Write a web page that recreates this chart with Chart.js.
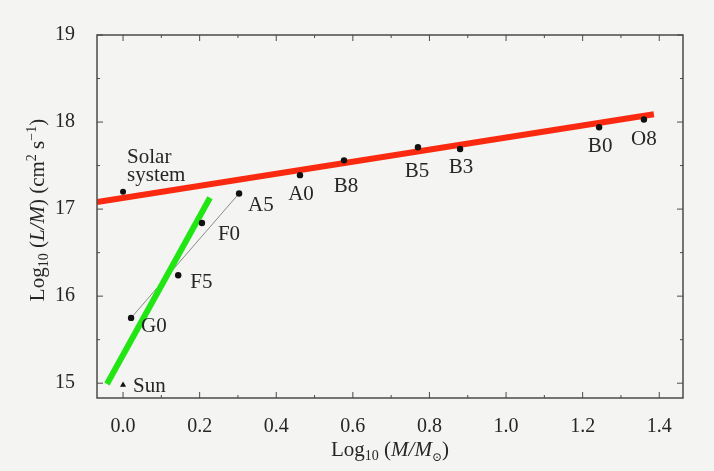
<!DOCTYPE html>
<html>
<head>
<meta charset="utf-8">
<script src="https://cdn.jsdelivr.net/npm/chart.js@4.4.0/dist/chart.umd.min.js"></script>
<style>
  body { margin: 0; background: #f4f4f3; }
  canvas { display: block; }
</style>
</head>
<body>
<canvas id="jChart" width="714" height="471"></canvas>
<script>
// main-sequence stars: log10(M/Msun) and log10(J/M) in cm^2 s^-1
const starTypes = ["A5", "F0", "F5", "G0", "A0", "B8", "B5", "B3", "B0", "O8"];
const starLogMass = [0.303, 0.206, 0.144, 0.021, 0.462, 0.577, 0.770, 0.880, 1.243, 1.360];
const starLogJ = [17.18, 16.84, 16.24, 15.75, 17.39, 17.56, 17.71, 17.69, 17.94, 18.03];

const sunLogMass = [0.0];
const sunLogJ = [14.98];
const solarSysLogMass = [0.0];
const solarSysLogJ = [17.20];

// the two fitted lines, end points
const upperFitX = [-0.068, 1.386];
const upperFitY = [17.08, 18.09];
const lowerFitX = [-0.042, 0.227];
const lowerFitY = [14.99, 17.13];

// thin line joins these two stars
const thinLineStars = ["G0", "A5"];

const xTicks = [0.0, 0.2, 0.4, 0.6, 0.8, 1.0, 1.2, 1.4];
const yTicks = [15, 16, 17, 18, 19];

const SERIF = '"Liberation Serif", "DejaVu Serif", serif';
const INK = "#262626";

// label placement around each point (pixels)
const labelOffsets = {
  A5: [9, 18, "left"], F0: [16, 17, "left"], F5: [12, 13, "left"], G0: [10, 14, "left"],
  A0: [1, 25, "center"], B8: [2, 32, "center"], B5: [-1, 30, "center"], B3: [1, 24, "center"],
  B0: [1, 25, "center"], O8: [0, 26, "center"]
};

const toPoints = (xs, ys) => xs.map((x, i) => ({ x: x, y: ys[i] }));

const thinLine = thinLineStars.map(s => {
  const i = starTypes.indexOf(s);
  return { x: starLogMass[i], y: starLogJ[i] };
});

function drawRich(ctx, segs, cx, cy) {
  let total = 0;
  segs.forEach(s => { ctx.font = s.font; total += ctx.measureText(s.t).width; });
  let x = cx - total / 2;
  ctx.textAlign = "left";
  ctx.textBaseline = "alphabetic";
  segs.forEach(s => {
    ctx.font = s.font;
    ctx.fillText(s.t, x, cy + (s.dy || 0));
    x += ctx.measureText(s.t).width;
  });
}

const decorPlugin = {
  id: "decor",
  afterDatasetsDraw(chart) {
    const ctx = chart.ctx;
    const xs = chart.scales.x, ys = chart.scales.y;
    const a = chart.chartArea;
    ctx.save();

    // frame
    ctx.strokeStyle = "#4a4a4a";
    ctx.lineWidth = 1.5;
    ctx.strokeRect(a.left, a.top, a.right - a.left, a.bottom - a.top);

    // inward ticks on all four sides
    ctx.lineWidth = 1;
    ctx.beginPath();
    for (let v = 0; v <= 1.45; v += 0.1) {
      const px = xs.getPixelForValue(v);
      const len = Math.abs(Math.round(v * 10) % 2) === 0 ? 6 : 3;
      ctx.moveTo(px, a.bottom); ctx.lineTo(px, a.bottom - len);
      ctx.moveTo(px, a.top); ctx.lineTo(px, a.top + len);
    }
    for (let v = 15; v <= 19; v += 0.5) {
      const py = ys.getPixelForValue(v);
      const len = v % 1 === 0 ? 6 : 3;
      ctx.moveTo(a.left, py); ctx.lineTo(a.left + len, py);
      ctx.moveTo(a.right, py); ctx.lineTo(a.right - len, py);
    }
    ctx.stroke();

    // point labels
    ctx.fillStyle = INK;
    ctx.font = "21px " + SERIF;
    ctx.textBaseline = "alphabetic";
    starTypes.forEach((s, i) => {
      const off = labelOffsets[s];
      ctx.textAlign = off[2];
      ctx.fillText(s, xs.getPixelForValue(starLogMass[i]) + off[0], ys.getPixelForValue(starLogJ[i]) + off[1]);
    });
    ctx.textAlign = "left";
    const sx = xs.getPixelForValue(sunLogMass[0]), sy = ys.getPixelForValue(sunLogJ[0]);
    ctx.fillText("Sun", sx + 10, sy + 7);
    const qx = xs.getPixelForValue(solarSysLogMass[0]), qy = ys.getPixelForValue(solarSysLogJ[0]);
    ctx.fillText("Solar", qx + 4, qy - 29);
    ctx.fillText("system", qx + 4, qy - 11);

    // axis titles
    const big = "21px " + SERIF, it = "italic 21px " + SERIF, small = "14px " + SERIF;
    drawRich(ctx, [
      { t: "Log", font: big }, { t: "10", font: small, dy: 4 }, { t: " (", font: big },
      { t: "M/M", font: it }, { t: "\u2299", font: "12px " + SERIF, dy: 5 }, { t: ")", font: big }
    ], (a.left + a.right) / 2, 456);

    ctx.translate(44, 210);
    ctx.rotate(-Math.PI / 2);
    drawRich(ctx, [
      { t: "Log", font: big }, { t: "10", font: small, dy: 4 }, { t: " (", font: big },
      { t: "L/M", font: it }, { t: ") (cm", font: big }, { t: "2", font: small, dy: -8 },
      { t: " s", font: big }, { t: "\u22121", font: small, dy: -8 }, { t: ")", font: big }
    ], 0, 0);

    ctx.restore();
  }
};

Chart.defaults.font.family = SERIF;
Chart.defaults.color = INK;

new Chart(document.getElementById("jChart").getContext("2d"), {
  type: "scatter",
  data: {
    datasets: [
      {
        label: "Stars",
        data: toPoints(starLogMass, starLogJ),
        pointRadius: 3.2,
        pointBackgroundColor: "#111",
        pointBorderWidth: 0
      },
      {
        label: "Sun",
        data: toPoints(sunLogMass, sunLogJ),
        pointStyle: "triangle",
        pointRadius: 3.5,
        pointBackgroundColor: "#111",
        pointBorderWidth: 0
      },
      {
        label: "Solar system",
        data: toPoints(solarSysLogMass, solarSysLogJ),
        pointRadius: 3,
        pointBackgroundColor: "#111",
        pointBorderWidth: 0
      },
      {
        label: "Lower fit",
        data: toPoints(lowerFitX, lowerFitY),
        showLine: true,
        borderColor: "#22e614",
        borderWidth: 6,
        pointRadius: 0
      },
      {
        label: "Upper fit",
        data: toPoints(upperFitX, upperFitY),
        showLine: true,
        borderColor: "#fa2a10",
        borderWidth: 6,
        pointRadius: 0
      },
      {
        label: "Sequence",
        data: thinLine,
        showLine: true,
        borderColor: "#8a8a8a",
        borderWidth: 1,
        pointRadius: 0
      }
    ]
  },
  options: {
    responsive: false,
    animation: false,
    layout: { padding: { top: 35, right: 31, left: 0, bottom: 0 } },
    plugins: { legend: { display: false }, tooltip: { enabled: false } },
    scales: {
      x: {
        type: "linear",
        min: -0.068,
        max: 1.462,
        grid: { display: false },
        border: { display: false },
        afterBuildTicks: s => { s.ticks = xTicks.map(v => ({ value: v })); },
        afterFit: s => { s.height = 73; },
        ticks: { padding: 9, font: { size: 20 }, callback: v => v.toFixed(1) }
      },
      y: {
        type: "linear",
        min: 14.83,
        max: 19,
        grid: { display: false },
        border: { display: false },
        afterBuildTicks: s => { s.ticks = yTicks.map(v => ({ value: v })); },
        afterFit: s => { s.width = 97; },
        ticks: { padding: 14, font: { size: 20 }, callback: v => String(v) }
      }
    }
  },
  plugins: [decorPlugin]
});
</script>
</body>
</html>
